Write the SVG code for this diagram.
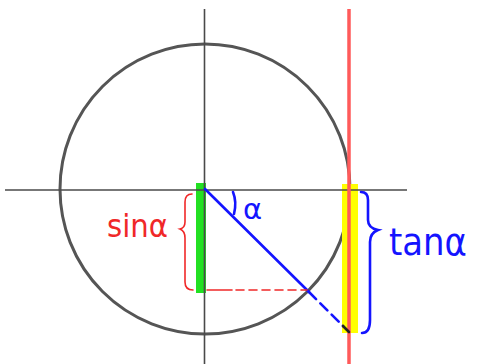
<svg xmlns="http://www.w3.org/2000/svg" width="480" height="364" viewBox="0 0 480 364">
<style>
.axis{stroke:#4a4a4a;stroke-width:1.6;fill:none}
.circ{stroke:#555;stroke-width:3;fill:none}
.red{stroke:#f02828;stroke-width:1.6;fill:none;stroke-linecap:round}
.blue{stroke:#1414ff;stroke-width:2.6;fill:none;stroke-linecap:round}
.lbl{font-family:"DejaVu Sans","Liberation Sans",sans-serif}
</style>
<rect width="480" height="364" fill="#fff"/>
<g id="circle"><circle class="circ" cx="205" cy="189" r="145"/></g>
<g id="highlights">
<rect x="196" y="183" width="10" height="110" fill="#22e022"/>
<rect x="342" y="184" width="16" height="149" fill="#ffff00"/>
</g>
<g id="axes">
<line class="axis" x1="5" y1="190" x2="407" y2="190"/>
<line class="axis" x1="204.5" y1="9" x2="204.5" y2="364"/>
</g>
<g id="tangent-line"><line x1="349" y1="9" x2="349" y2="364" stroke="#ff5a5a" stroke-width="3.5"/></g>
<g id="connectors">
<line class="blue" x1="205" y1="189" x2="309" y2="292"/>
<line class="blue" x1="309" y1="292" x2="343" y2="326" stroke-dasharray="10 6"/>
<line x1="343" y1="326" x2="349" y2="332" stroke="#222" stroke-width="2.6" stroke-linecap="round"/>
<line class="red" x1="207" y1="290" x2="232" y2="290"/>
<line class="red" x1="236" y1="290" x2="307" y2="290" stroke-dasharray="8 5"/>
<path class="red" d="M192,194 Q185,194 185,202 L185,222 Q185,228 180,229 Q185,231 185,238 L185,282 Q185,290 193,290"/>
<path class="blue" d="M361,192 Q368,192 368,200 L368,220 Q368,228 378,230 Q370,233 370,242 L370,320 Q370,333 362,333"/>
<path class="blue" d="M233,192 Q237,202 234,214"/>
</g>
<g id="labels">
<text class="lbl" x="107" y="237" font-size="32" fill="#f02828" textLength="61" lengthAdjust="spacingAndGlyphs">sinα</text>
<text class="lbl" x="243" y="219" font-size="29" fill="#1414ff">α</text>
<text class="lbl" x="389" y="255" font-size="38" fill="#1414ff" textLength="78" lengthAdjust="spacingAndGlyphs">tanα</text>
</g>
</svg>
